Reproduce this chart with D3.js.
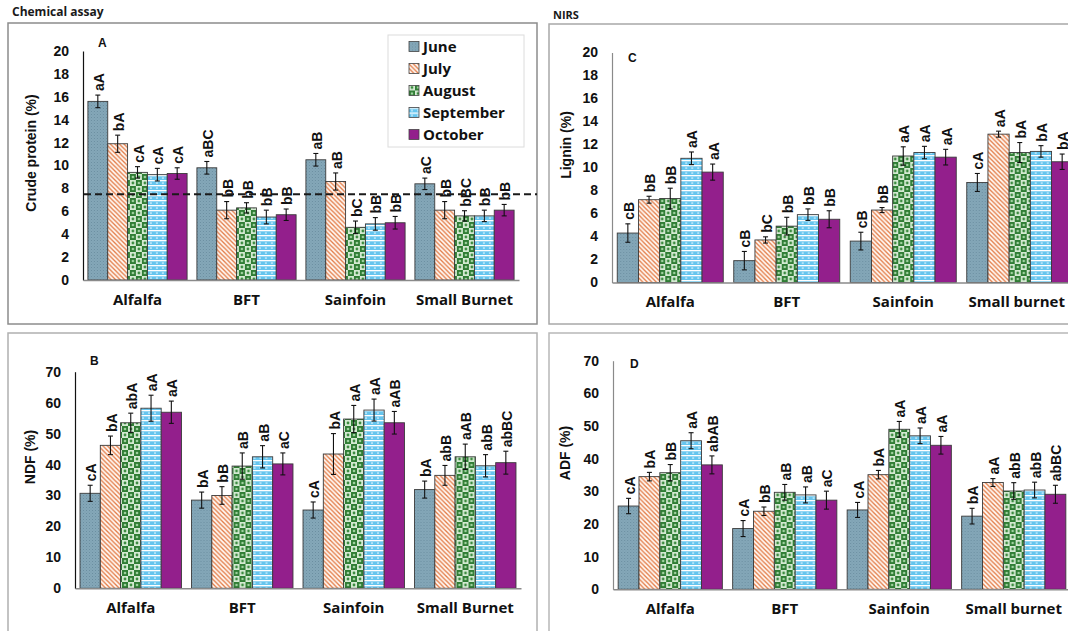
<!DOCTYPE html>
<html>
<head>
<meta charset="utf-8">
<script src="https://cdn.jsdelivr.net/npm/d3@7"></script>
<style>
  body { margin: 0; background: #fff; }
  svg { display: block; }
</style>
</head>
<body>
<svg id="chart" width="1068" height="631"></svg>
<script>
// ---- data ----
const months = ["June", "July", "August", "September", "October"];
const foragesChem = ["Alfalfa", "BFT", "Sainfoin", "Small Burnet"];
const foragesNirs = ["Alfalfa", "BFT", "Sainfoin", "Small burnet"];

// Crude protein (%) - chemical assay; one row per forage, one value per month
const cpMean = [[15.6, 11.9, 9.4, 9.2, 9.3], [9.8, 6.1, 6.3, 5.5, 5.7], [10.5, 8.6, 4.6, 4.9, 5.0], [8.4, 6.1, 5.6, 5.6, 6.1]];
const cpErr = [[0.55, 0.75, 0.5, 0.55, 0.5], [0.55, 0.75, 0.45, 0.6, 0.5], [0.55, 0.75, 0.55, 0.55, 0.55], [0.5, 0.75, 0.45, 0.5, 0.5]];
const cpLetters = [["aA", "bA", "cA", "cA", "cA"], ["aBC", "bB", "bB", "bB", "bB"], ["aB", "aB", "bC", "bB", "bB"], ["aC", "bB", "bBC", "bB", "bB"]];
const cpReference = 7.5;

// NDF (%) - chemical assay
const ndfMean = [[30.7, 46.2, 53.5, 58.2, 56.9], [28.5, 30.0, 39.5, 42.5, 40.2], [25.3, 43.4, 54.7, 57.6, 53.5], [31.9, 36.5, 42.5, 39.6, 40.6]];
const ndfErr = [[2.6, 3.0, 3.1, 4.2, 3.6], [2.6, 2.85, 4.25, 3.6, 3.55], [2.6, 6.6, 4.4, 3.55, 3.65], [2.75, 3.2, 4.1, 3.6, 3.7]];
const ndfLetters = [["cA", "bA", "abA", "aA", "aA"], ["bA", "bB", "aB", "aB", "aC"], ["cA", "bA", "aA", "aA", "aAB"], ["bA", "abB", "aAB", "abB", "abBC"]];

// Lignin (%) - NIRS
const ligMean = [[4.3, 7.2, 7.3, 10.8, 9.6], [1.9, 3.7, 4.9, 5.9, 5.5], [3.6, 6.3, 11.0, 11.3, 10.9], [8.7, 12.9, 11.3, 11.4, 10.5]];
const ligErr = [[0.8, 0.3, 0.9, 0.55, 0.7], [0.8, 0.27, 0.77, 0.5, 0.74], [0.77, 0.22, 0.8, 0.54, 0.68], [0.78, 0.26, 0.87, 0.5, 0.67]];
const ligLetters = [["cB", "bB", "bB", "aA", "aA"], ["cB", "bC", "bB", "bB", "bB"], ["cB", "bB", "aA", "aA", "aA"], ["cA", "aA", "bA", "bA", "bA"]];

// ADF (%) - NIRS
const adfMean = [[25.5, 34.5, 35.7, 45.5, 38.1], [18.6, 23.9, 29.7, 28.9, 27.3], [24.3, 35.1, 49.0, 47.0, 44.1], [22.4, 32.7, 30.1, 30.4, 29.1]];
const adfErr = [[2.35, 1.3, 2.5, 2.45, 2.75], [2.45, 1.3, 2.4, 2.45, 2.75], [2.3, 1.3, 2.4, 2.4, 2.7], [2.4, 1.2, 2.55, 2.4, 2.75]];
const adfLetters = [["cA", "bA", "bB", "aA", "abAB"], ["cA", "bB", "aB", "aB", "aC"], ["cA", "bA", "aA", "aA", "aA"], ["bA", "aA", "abB", "abB", "abBC"]];

// axis tick labels
const ticksProtein = [0, 2, 4, 6, 8, 10, 12, 14, 16, 18, 20];
const ticksLignin = [0, 2, 4, 6, 8, 10, 12, 14, 16, 18, 20];
const ticksFibre = [0, 10, 20, 30, 40, 50, 60, 70];

// ---- drawing ----
const svg = d3.select("#chart");
const defs = svg.append("defs");
const NUM_FONT = "'Liberation Sans', Arial, sans-serif";
const TXT_FONT = "'Open Sans', 'Noto Sans', sans-serif";

// fill patterns, one per month
(function buildPatterns() {
  // June: blue-grey with fine texture
  const june = defs.append("pattern").attr("id", "pat-June")
    .attr("patternUnits", "userSpaceOnUse").attr("width", 3).attr("height", 3);
  june.append("rect").attr("width", 3).attr("height", 3).attr("fill", "#84a7b8");
  june.append("rect").attr("x", 0).attr("y", 0).attr("width", 1).attr("height", 1).attr("fill", "#6b8ea0");
  june.append("rect").attr("x", 1.5).attr("y", 1.5).attr("width", 1).attr("height", 1).attr("fill", "#789bad");

  // July: orange diagonal hatch on white
  const july = defs.append("pattern").attr("id", "pat-July")
    .attr("patternUnits", "userSpaceOnUse").attr("width", 4.5).attr("height", 4.5);
  july.append("rect").attr("width", 4.5).attr("height", 4.5).attr("fill", "#fff8f3");
  july.append("path").attr("d", "M-1,-1 L5.5,5.5 M-1,3.5 L1,5.5 M3.5,-1 L5.5,1")
    .attr("stroke", "#e27a45").attr("stroke-width", 1.3);

  // August: green checkerboard with dots
  const aug = defs.append("pattern").attr("id", "pat-August")
    .attr("patternUnits", "userSpaceOnUse").attr("width", 12).attr("height", 12);
  aug.append("rect").attr("width", 12).attr("height", 12).attr("fill", "#d5ead3");
  aug.append("rect").attr("x", 0).attr("y", 0).attr("width", 6).attr("height", 6).attr("fill", "#2f7d34");
  aug.append("rect").attr("x", 6).attr("y", 6).attr("width", 6).attr("height", 6).attr("fill", "#2f7d34");
  aug.append("circle").attr("cx", 3).attr("cy", 3).attr("r", 1.3).attr("fill", "#9fd09f");
  aug.append("circle").attr("cx", 9).attr("cy", 9).attr("r", 1.3).attr("fill", "#9fd09f");
  aug.append("circle").attr("cx", 9).attr("cy", 3).attr("r", 1.4).attr("fill", "#3c8c40");
  aug.append("circle").attr("cx", 3).attr("cy", 9).attr("r", 1.4).attr("fill", "#3c8c40");

  // September: light blue with white horizontal weave
  const sep = defs.append("pattern").attr("id", "pat-September")
    .attr("patternUnits", "userSpaceOnUse").attr("width", 6).attr("height", 5);
  sep.append("rect").attr("width", 6).attr("height", 5).attr("fill", "#66c5ee");
  sep.append("rect").attr("x", 0).attr("y", 0).attr("width", 6).attr("height", 1.3).attr("fill", "#ffffff");
  sep.append("rect").attr("x", 2).attr("y", 2.5).attr("width", 2).attr("height", 1.1).attr("fill", "#e4f5fd");

  // October: solid purple
  const oct = defs.append("pattern").attr("id", "pat-October")
    .attr("patternUnits", "userSpaceOnUse").attr("width", 4).attr("height", 4);
  oct.append("rect").attr("width", 4).attr("height", 4).attr("fill", "#931f8c");
})();

// panel frames and section headers
function frame(x, y, w, h, stroke) {
  svg.append("rect").attr("x", x).attr("y", y).attr("width", w).attr("height", h)
    .attr("fill", "none").attr("stroke", stroke).attr("stroke-width", 1.5);
}
frame(8, 23, 529, 301, "#8c8c8c");
frame(549, 24, 560, 300, "#a8a8a8");
frame(8, 333, 529, 320, "#b0b0b0");
frame(549, 333, 560, 320, "#b8b8b8");

svg.append("text").attr("x", 12).attr("y", 16).text("Chemical assay")
  .attr("font-family", TXT_FONT).attr("font-weight", 700).attr("font-size", 12).attr("fill", "#1a1a1a");
svg.append("text").attr("x", 553).attr("y", 19).text("NIRS")
  .attr("font-family", TXT_FONT).attr("font-weight", 700).attr("font-size", 11).attr("fill", "#1a1a1a");

function drawPanel(cfg) {
  const g = svg.append("g");
  const x0 = d3.scaleBand().domain(cfg.categories).range([cfg.left, cfg.right])
    .paddingInner(0.09).paddingOuter(0.045);
  const x1 = d3.scaleBand().domain(months).range([0, x0.bandwidth()]);
  const y = d3.scaleLinear().domain([0, cfg.max]).range([cfg.bottom, cfg.top]);

  // y axis
  const ya = g.append("g").attr("transform", `translate(${cfg.left},0)`)
    .call(d3.axisLeft(y).tickValues(cfg.ticks).tickSize(0).tickSizeOuter(0).tickPadding(14));
  ya.select(".domain").attr("stroke", cfg.axisColor).attr("stroke-width", 1.2);
  ya.selectAll("text").attr("font-family", NUM_FONT).attr("font-weight", 700)
    .attr("font-size", 14).attr("fill", "#111");

  // bars
  const rows = cfg.categories.map((c, i) => months.map((m, j) => ({
    cat: c, month: m, v: cfg.mean[i][j], e: cfg.err[i][j], lab: cfg.letters[i][j]
  })));
  const grp = g.selectAll(".grp").data(rows).join("g")
    .attr("transform", (d, i) => `translate(${x0(cfg.categories[i])},0)`);

  grp.selectAll("rect").data(d => d).join("rect")
    .attr("x", d => x1(d.month)).attr("width", x1.bandwidth())
    .attr("y", d => y(d.v)).attr("height", d => y(0) - y(d.v))
    .attr("fill", d => `url(#pat-${d.month})`)
    .attr("stroke", "#3b3b3b").attr("stroke-width", 0.9);

  // error bars
  const eb = grp.selectAll(".eb").data(d => d).join("g").attr("class", "eb")
    .attr("stroke", "#111").attr("stroke-width", 1.1);
  eb.append("line")
    .attr("x1", d => x1(d.month) + x1.bandwidth() / 2).attr("x2", d => x1(d.month) + x1.bandwidth() / 2)
    .attr("y1", d => y(d.v + d.e)).attr("y2", d => y(d.v - d.e));
  eb.append("line")
    .attr("x1", d => x1(d.month) + x1.bandwidth() / 2 - 2.5).attr("x2", d => x1(d.month) + x1.bandwidth() / 2 + 2.5)
    .attr("y1", d => y(d.v + d.e)).attr("y2", d => y(d.v + d.e));
  eb.append("line")
    .attr("x1", d => x1(d.month) + x1.bandwidth() / 2 - 2.5).attr("x2", d => x1(d.month) + x1.bandwidth() / 2 + 2.5)
    .attr("y1", d => y(d.v - d.e)).attr("y2", d => y(d.v - d.e));

  // significance letters, written vertically above each error bar
  grp.selectAll(".lab").data(d => d).join("text").attr("class", "lab")
    .attr("transform", d => `translate(${x1(d.month) + x1.bandwidth() / 2 + 1},${y(d.v + d.e) - 4}) rotate(-90)`)
    .attr("dy", "0.36em").attr("text-anchor", "start")
    .attr("font-family", NUM_FONT).attr("font-weight", 700).attr("font-size", 14).attr("fill", "#111")
    .text(d => d.lab);

  // x axis
  const xa = g.append("g").attr("transform", `translate(0,${cfg.bottom})`)
    .call(d3.axisBottom(x0).tickSize(0).tickSizeOuter(0).tickPadding(cfg.labelGap));
  xa.select(".domain").attr("stroke", "#8a8a8a").attr("stroke-width", 1.5);
  xa.selectAll("text").attr("font-family", TXT_FONT).attr("font-weight", 700)
    .attr("font-size", 15).attr("fill", "#111");
  if (cfg.lastLabelShift) {
    xa.selectAll(".tick:last-of-type text").attr("dx", cfg.lastLabelShift);
  }

  // y title
  g.append("text")
    .attr("transform", `translate(${cfg.titleX},${cfg.titleY}) rotate(-90)`)
    .attr("text-anchor", "middle").attr("dy", "0.35em")
    .attr("font-family", NUM_FONT).attr("font-weight", 700).attr("font-size", 14).attr("fill", "#111")
    .text(cfg.title);

  // panel letter
  g.append("text").attr("x", cfg.tagX).attr("y", cfg.tagY).text(cfg.tag)
    .attr("font-family", NUM_FONT).attr("font-weight", 700).attr("font-size", 12).attr("fill", "#111");

  return { x0, y, g };
}

// A - crude protein
const pA = drawPanel({
  categories: foragesChem, mean: cpMean, err: cpErr, letters: cpLetters,
  ticks: ticksProtein, max: 20, left: 83, right: 519, top: 51, bottom: 280,
  axisColor: "#111", labelGap: 14, title: "Crude protein (%)", titleX: 31, titleY: 153,
  tag: "A", tagX: 98, tagY: 47
});
// reference line for crude protein
pA.g.append("line")
  .attr("x1", 84).attr("x2", 537).attr("y1", pA.y(cpReference)).attr("y2", pA.y(cpReference))
  .attr("stroke", "#1a1a1a").attr("stroke-width", 2).attr("stroke-dasharray", "7,4");

// C - lignin
drawPanel({
  categories: foragesNirs, mean: ligMean, err: ligErr, letters: ligLetters,
  ticks: ticksLignin, max: 20, left: 612, right: 1078, top: 52.5, bottom: 282.5,
  axisColor: "#8a8a8a", labelGap: 14, title: "Lignin (%)", titleX: 566, titleY: 145,
  tag: "C", tagX: 628, tagY: 62, lastLabelShift: -3
});

// B - NDF
drawPanel({
  categories: foragesChem, mean: ndfMean, err: ndfErr, letters: ndfLetters,
  ticks: ticksFibre, max: 70, left: 75, right: 521, top: 371.7, bottom: 588.3,
  axisColor: "#111", labelGap: 14, title: "NDF (%)", titleX: 30, titleY: 457,
  tag: "B", tagX: 90, tagY: 365
});

// D - ADF
drawPanel({
  categories: foragesNirs, mean: adfMean, err: adfErr, letters: adfLetters,
  ticks: ticksFibre, max: 70, left: 613, right: 1071, top: 360.7, bottom: 589.3,
  axisColor: "#8a8a8a", labelGap: 14, title: "ADF (%)", titleX: 565, titleY: 453,
  tag: "D", tagX: 630, tagY: 368
});

// legend for panel A
const leg = svg.append("g");
leg.append("rect").attr("x", 388).attr("y", 35).attr("width", 136).attr("height", 112)
  .attr("fill", "#fff").attr("stroke", "#dcdcdc").attr("stroke-width", 1);
const li = leg.selectAll(".li").data(months).join("g")
  .attr("transform", (d, i) => `translate(409,${46.5 + i * 22})`);
li.append("rect").attr("x", 0).attr("y", -5).attr("width", 10).attr("height", 10)
  .attr("fill", d => `url(#pat-${d})`).attr("stroke", "#444").attr("stroke-width", 0.8);
li.append("text").attr("x", 14).attr("dy", "0.35em").text(d => d)
  .attr("font-family", TXT_FONT).attr("font-weight", 700).attr("font-size", 15).attr("fill", "#111");
</script>
</body>
</html>
